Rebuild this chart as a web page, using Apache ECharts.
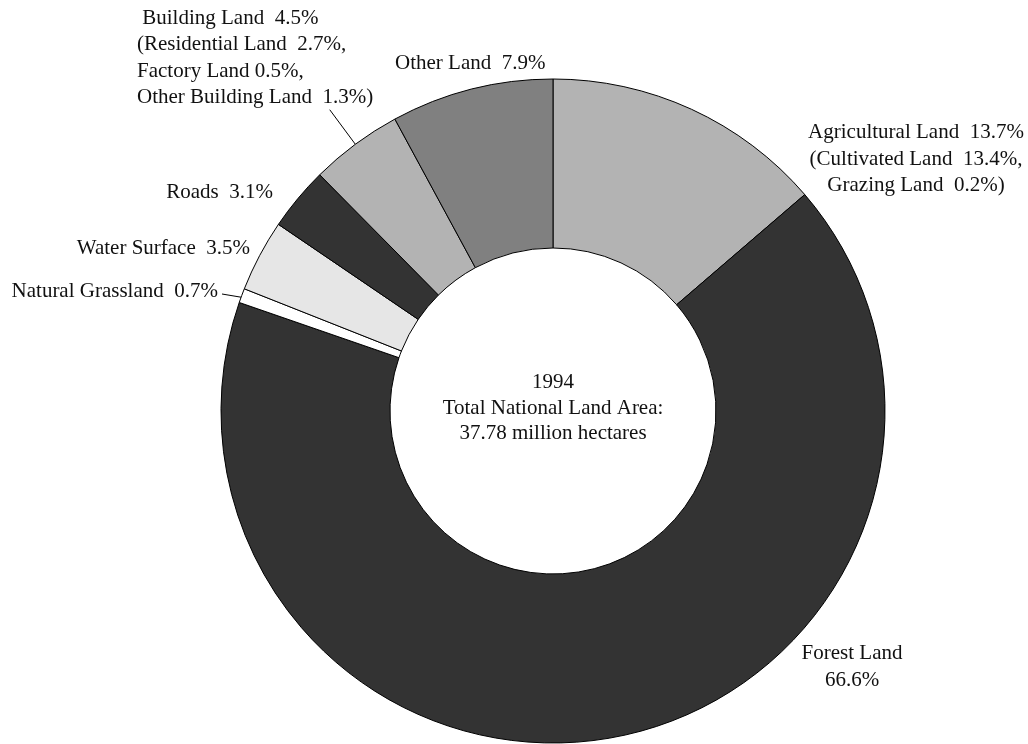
<!DOCTYPE html>
<html>
<head>
<meta charset="utf-8">
<script src="https://cdn.jsdelivr.net/npm/echarts@6/dist/echarts.min.js"></script>
<style>
  html, body { margin: 0; padding: 0; background: #ffffff; }
  #chart { width: 1028px; height: 744px; }
</style>
</head>
<body>
<div id="chart"></div>
<script>
// Land use shares in 1994 (percent of total national land area)
const categories = ['Agricultural Land', 'Forest Land', 'Natural Grassland', 'Water Surface', 'Roads', 'Building Land', 'Other Land'];
const shares = [13.7, 66.6, 0.7, 3.5, 3.1, 4.5, 7.9];

// Sub-categories shown in brackets under the main label
const agriculturalParts = ['Cultivated Land', 'Grazing Land'];
const agriculturalShares = [13.4, 0.2];
const buildingParts = ['Residential Land', 'Factory Land', 'Other Building Land'];
const buildingShares = [2.7, 0.5, 1.3];

const centerLines = ['1994', 'Total National Land Area:', '37.78 million hectares'];

// ---- styling & layout ----
const fills = ['#b3b3b3', '#333333', '#ffffff', '#e6e6e6', '#333333', '#b3b3b3', '#808080'];
const FONT = '"Liberation Serif", "Times New Roman", serif';
const FONT_SIZE = 21;
const LINE_H = 26.5;
const CX = 553, CY = 411, R_IN = 163, R_OUT = 332;

function pct(v) { return v.toFixed(1) + '%'; }

function bracketLines(parts, values) {
  return parts.map(function (p, i) {
    const last = i === parts.length - 1;
    const gap = p === 'Factory Land' ? ' ' : '  ';
    return (i === 0 ? '(' : '') + p + gap + pct(values[i]) + (last ? ')' : ',');
  });
}

function labelText(i) {
  const name = categories[i];
  const head = name + '  ' + pct(shares[i]);
  if (name === 'Agricultural Land') return [head].concat(bracketLines(agriculturalParts, agriculturalShares)).join('\n');
  if (name === 'Building Land') return [' ' + head].concat(bracketLines(buildingParts, buildingShares)).join('\n');
  if (name === 'Forest Land') return name + '\n' + pct(shares[i]);
  return head;
}

// Where each label sits around the ring
const labelSpots = {
  'Agricultural Land': { x: 916, y: 159, align: 'center' },
  'Forest Land':       { x: 852, y: 667, align: 'center' },
  'Natural Grassland': { x: 218, y: 291, align: 'right' },
  'Water Surface':     { x: 250, y: 248, align: 'right' },
  'Roads':             { x: 273, y: 192, align: 'right' },
  'Building Land':     { x: 137, y: 58,  align: 'left' },
  'Other Land':        { x: 395, y: 63,  align: 'left' }
};

// Mid angle of a slice (clockwise from 12 o'clock), in radians
function midAngle(i) {
  let cum = 0;
  for (let k = 0; k < i; k++) cum += shares[k];
  const total = shares.reduce(function (a, b) { return a + b; }, 0);
  return 2 * Math.PI * (cum + shares[i] / 2) / total;
}
function polar(i, r) {
  const a = midAngle(i);
  return [CX + r * Math.sin(a), CY - r * Math.cos(a)];
}

const pieData = categories.map(function (name, i) {
  const item = {
    name: name,
    value: shares[i],
    itemStyle: { color: fills[i] },
    label: { formatter: labelText(i) }
  };
  if (name === 'Building Land' || name === 'Natural Grassland') {
    item.labelLine = { show: true, lineStyle: { color: '#000', width: 1 } };
  }
  return item;
});

const chart = echarts.init(document.getElementById('chart'), null, { renderer: 'canvas' });

chart.setOption({
  animation: false,
  backgroundColor: '#ffffff',
  series: [{
    type: 'pie',
    center: [CX, CY],
    radius: [R_IN, R_OUT],
    startAngle: 90,
    clockwise: true,
    avoidLabelOverlap: false,
    silent: true,
    itemStyle: { borderColor: '#000000', borderWidth: 1 },
    label: {
      show: true,
      position: 'outside',
      color: '#111111',
      fontFamily: FONT,
      fontSize: FONT_SIZE,
      lineHeight: LINE_H
    },
    labelLine: { show: false },
    labelLayout: function (p) {
      const name = categories[p.dataIndex];
      const spot = labelSpots[name];
      const out = { x: spot.x, y: spot.y, align: spot.align, verticalAlign: 'middle' };
      if (name === 'Building Land') {
        out.labelLinePoints = [polar(p.dataIndex, 375), polar(p.dataIndex, 298)];
      } else if (name === 'Natural Grassland') {
        out.labelLinePoints = [[spot.x + 4, spot.y + 3], polar(p.dataIndex, 323)];
      }
      return out;
    },
    data: pieData
  }],
  graphic: [{
    type: 'text',
    x: CX,
    y: 408,
    silent: true,
    style: {
      text: centerLines.join('\n'),
      fill: '#111111',
      font: FONT_SIZE + 'px ' + FONT,
      lineHeight: LINE_H - 1,
      align: 'center',
      verticalAlign: 'middle'
    }
  }]
});
</script>
</body>
</html>
